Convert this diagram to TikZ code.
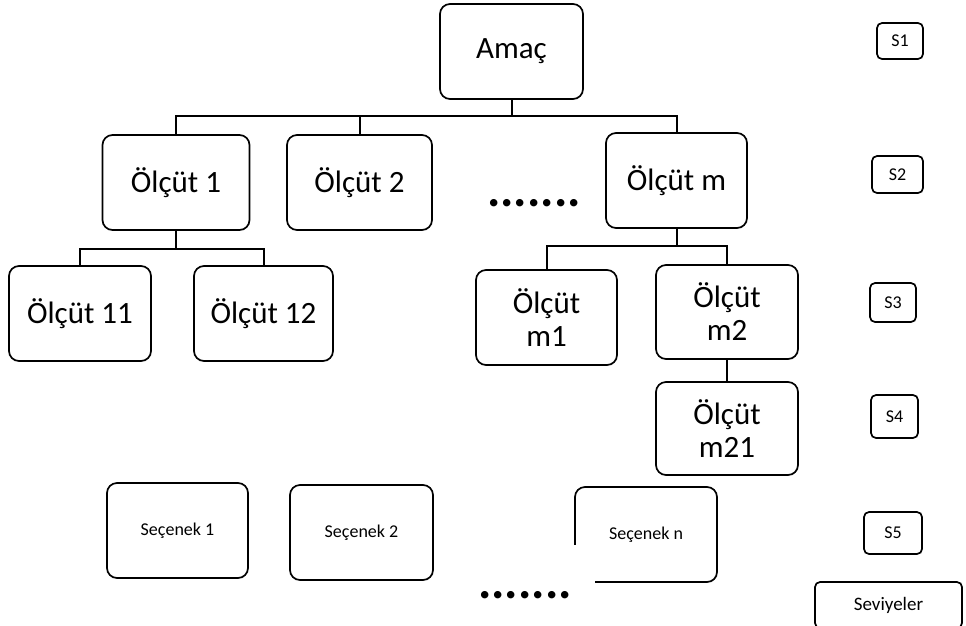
\documentclass[tikz,border=0pt]{standalone}
\usepackage{fontspec}
\setmainfont{Carlito}

\begin{document}
\begin{tikzpicture}[
  x=1pt, y=-1pt,
  crit/.style={draw, line width=1.7pt, rounded corners=10pt, minimum width=142pt, minimum height=95pt, align=center, inner sep=0pt, font=\fontsize{31}{33}\selectfont},
  alt/.style={crit, font=\fontsize{18}{22}\selectfont},
  tag/.style={draw, line width=1.7pt, rounded corners=5pt, inner sep=0pt, font=\fontsize{18}{22}\selectfont},
  link/.style={line width=2pt},
  gap/.style={font=\fontsize{50}{50}\bfseries\selectfont, inner sep=0pt}
]
\useasboundingbox (0,0) rectangle (966,625);

% Goal and first level criteria
\node[crit, minimum width=143pt] (amac) at (511.5,51.5) {Amaç};
\node[crit, minimum width=147pt] (olc-1) at (176,182.5) {Ölçüt 1};
\node[crit, minimum width=145pt] (olc-2) at (359.5,182.5) {Ölçüt 2};
\node[crit, minimum width=141pt] (olc-m) at (676.5,180.5) {Ölçüt m};
\node[gap] (dots-top) at (534,203) {.......};

% Sub criteria
\node[crit] (olc-11) at (80,313.5) {Ölçüt 11};
\node[crit, minimum width=139pt] (olc-12) at (263.5,313.5) {Ölçüt 12};
\node[crit, minimum width=141pt] (olc-m1) at (546.5,317.5) {Ölçüt\\m1};
\node[crit, minimum height=94pt] (olc-m2) at (727,312) {Ölçüt\\m2};
\node[crit, minimum height=93pt] (olc-m21) at (727,428.5) {Ölçüt\\m21};

% Alternatives
\node[alt, minimum width=141pt] (sec-1) at (177.5,530.5) {Seçenek 1};
\node[alt, minimum width=143pt] (sec-2) at (361.5,532.5) {Seçenek 2};
\node[alt] (sec-n) at (646,534.5) {Seçenek n};
\node[gap, fill=white, minimum width=140pt, minimum height=100pt] (dots-bot) at (525,595) {.......};

% Levels
\node[tag, minimum width=46pt, minimum height=36pt] (s1) at (900,41) {S1};
\node[tag, minimum width=51pt, minimum height=37pt] (s2) at (897.5,174.5) {S2};
\node[tag, minimum width=46pt, minimum height=39pt] (s3) at (893,302.5) {S3};
\node[tag, minimum width=47pt, minimum height=43pt] (s4) at (894.5,416.5) {S4};
\node[tag, minimum width=58pt, minimum height=42pt] (s5) at (893,533) {S5};
\node[tag, minimum width=147pt, minimum height=46pt, font=\fontsize{19}{22}\selectfont] (seviyeler) at (888.5,605) {Seviyeler};

% Tree lines
\coordinate (bus-top) at (0,116);
\coordinate (bus-1) at (0,249);
\coordinate (bus-m) at (0,246);
\draw[link] (amac.south) -- (amac.south |- bus-top);
\draw[link] (olc-1.north) |- (olc-m.north |- bus-top) -- (olc-m.north);
\draw[link] (olc-2.north) -- (olc-2.north |- bus-top);
\draw[link] (olc-1.south) -- (olc-1.south |- bus-1);
\draw[link] (olc-11.north) |- (olc-12.north |- bus-1) -- (olc-12.north);
\draw[link] (olc-m.south) -- (olc-m.south |- bus-m);
\draw[link] (olc-m1.north) |- (olc-m2.north |- bus-m) -- (olc-m2.north);
\draw[link] (olc-m2.south) -- (olc-m21.north);
\end{tikzpicture}
\end{document}
